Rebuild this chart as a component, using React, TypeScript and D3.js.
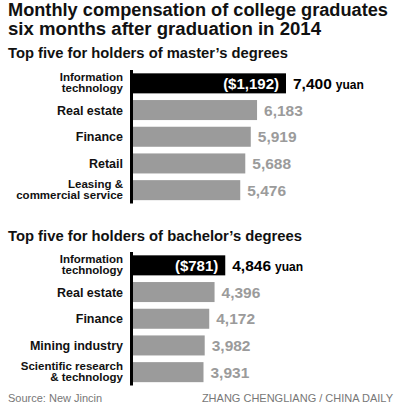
import React from "react";
import * as d3 from "d3";

const masterCategories = [
  ["Information", "technology"],
  ["Real estate"],
  ["Finance"],
  ["Retail"],
  ["Leasing &", "commercial service"],
];
const masterValues = [7400, 6183, 5919, 5688, 5476];
const masterUsd = "($1,192)";

const bachelorCategories = [
  ["Information", "technology"],
  ["Real estate"],
  ["Finance"],
  ["Mining industry"],
  ["Scientific research", "& technology"],
];
const bachelorValues = [4846, 4396, 4172, 3982, 3931];
const bachelorUsd = "($781)";

const titleLines = [
  "Monthly compensation of college graduates",
  "six months after graduation in 2014",
];
const masterSubtitle = "Top five for holders of master\u2019s degrees";
const bachelorSubtitle = "Top five for holders of bachelor\u2019s degrees";
const sourceText = "Source: New Jincin";
const creditText = "ZHANG CHENGLIANG / CHINA DAILY";

const W = 399;
const H = 412;
const FONT = "'Liberation Sans', Arial, sans-serif";
const AXIS_X = 133;
const LABEL_X = 123;
const GRAY = "#9b9b9b";

const x = d3.scaleLinear().domain([0, 7400]).range([110, 286]);

function Panel({ cats, values, usd, y0, y1 }) {
  const keys = cats.map((c) => c.join(" "));
  const y = d3
    .scaleBand()
    .domain(keys)
    .range([y0, y1])
    .paddingInner(0.25)
    .paddingOuter(0.125);
  const bh = y.bandwidth();
  return (
    <g>
      {keys.map((k, i) => {
        const top = y(k);
        const cy = top + bh / 2;
        const end = x(values[i]);
        const first = i === 0;
        const lines = cats[i];
        return (
          <g key={k}>
            <rect
              x={AXIS_X}
              y={top}
              width={end - AXIS_X}
              height={bh}
              fill={first ? "#000" : GRAY}
            />
            {lines.map((ln, j) => (
              <text
                key={j}
                x={LABEL_X}
                y={
                  lines.length === 1
                    ? cy + 4.5
                    : cy + (j === 0 ? -2.5 : 9)
                }
                textAnchor="end"
                fontFamily={FONT}
                fontWeight="bold"
                fontSize={lines.length === 1 ? 12.5 : 11.5}
                fill="#111"
              >
                {ln}
              </text>
            ))}
            {first && (
              <text
                x={end - 7}
                y={cy + 5.5}
                textAnchor="end"
                fontFamily={FONT}
                fontWeight="bold"
                fontSize={15}
                fill="#fff"
              >
                {usd}
              </text>
            )}
            <text
              x={end + 7}
              y={cy + 5.5}
              fontFamily={FONT}
              fontWeight="bold"
              fontSize={15.5}
              fill={first ? "#000" : GRAY}
            >
              {d3.format(",")(values[i])}
              {first && (
                <tspan fontSize={12} dx={4}>
                  yuan
                </tspan>
              )}
            </text>
          </g>
        );
      })}
      <line
        x1={AXIS_X - 1.5}
        x2={AXIS_X - 1.5}
        y1={y0}
        y2={y1}
        stroke="#000"
        strokeWidth={3}
      />
    </g>
  );
}

export default function App() {
  return (
    <svg
      width={W}
      height={H}
      style={{ position: "absolute", left: 0, top: 0, background: "#fff" }}
    >
      <rect width={W} height={H} fill="#fff" />
      {titleLines.map((t, i) => (
        <text
          key={i}
          x={8}
          y={16 + i * 19}
          fontFamily={FONT}
          fontWeight="bold"
          fontSize={18}
          fill="#111"
          textLength={i === 0 ? 380 : 313}
          lengthAdjust="spacingAndGlyphs"
        >
          {t}
        </text>
      ))}
      <text
        x={8}
        y={58}
        fontFamily={FONT}
        fontWeight="bold"
        fontSize={15}
        fill="#111"
        textLength={280}
        lengthAdjust="spacingAndGlyphs"
      >
        {masterSubtitle}
      </text>
      <Panel cats={masterCategories} values={masterValues} usd={masterUsd} y0={70} y1={203.5} />
      <text
        x={8}
        y={241}
        fontFamily={FONT}
        fontWeight="bold"
        fontSize={15}
        fill="#111"
        textLength={294}
        lengthAdjust="spacingAndGlyphs"
      >
        {bachelorSubtitle}
      </text>
      <Panel cats={bachelorCategories} values={bachelorValues} usd={bachelorUsd} y0={252} y1={385.5} />
      <text x={8} y={402} fontFamily={FONT} fontSize={11} fill="#777">
        {sourceText}
      </text>
      <text x={393} y={402} textAnchor="end" fontFamily={FONT} fontSize={11} fill="#777">
        {creditText}
      </text>
    </svg>
  );
}
